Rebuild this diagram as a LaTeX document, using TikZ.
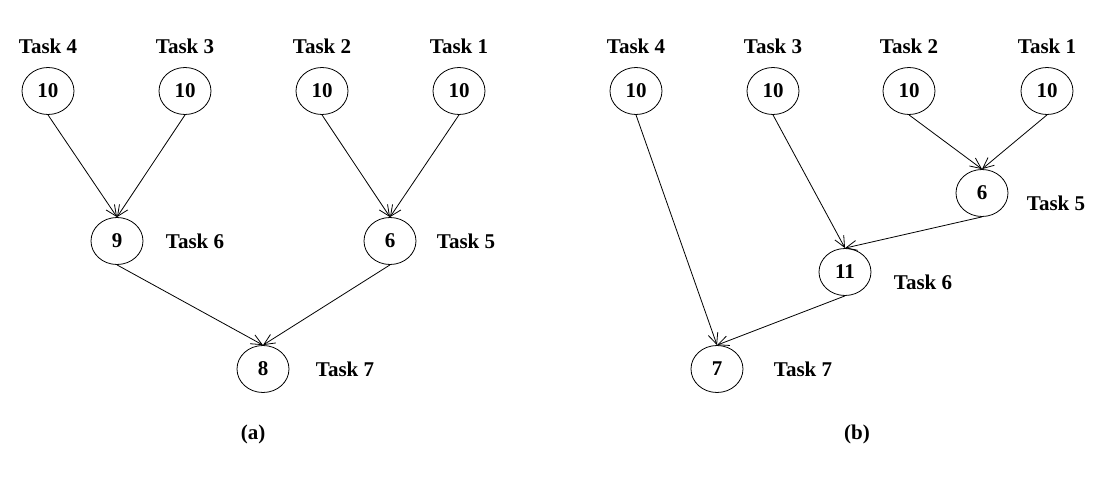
\documentclass[tikz,border=0pt]{standalone}
\usepackage{fontspec}
\setmainfont{Liberation Serif}
\usetikzlibrary{arrows.meta,positioning,shapes.geometric}

\begin{document}
\begin{tikzpicture}[
	x = 0.5pt, y = -0.5pt, % one unit per pixel of the page
	> = {Straight Barb[length=5.5pt,width=5pt]}, % open arrow head
	on grid,
	font = \fontsize{10.5}{12}\selectfont\bfseries,
	W/.style={ellipse, draw=black, thin, minimum width=26pt, minimum height=23.5pt, inner sep=0pt},  % task weight
	L/.style={inner sep=0pt},                                                                        % task label
	]
	\useasboundingbox (0,0) rectangle (1120,477);

	% (a) Nodes and their labels
	\node[W] (a4) at (48,91)  {10};
	\node[W] (a3) at (185,91) {10};
	\node[W] (a2) at (322,91) {10};
	\node[W] (a1) at (459,91) {10};
	\node[W] (a6) at (117,241) {9};
	\node[W] (a5) at (390,241) {6};
	\node[W] (a7) at (263,369) {8};

	\node[L] (ta4) [above = 22.5pt of a4] {Task 4};
	\node[L] (ta3) [above = 22.5pt of a3] {Task 3};
	\node[L] (ta2) [above = 22.5pt of a2] {Task 2};
	\node[L] (ta1) [above = 22.5pt of a1] {Task 1};
	\node[L] (ta6) [right = 39pt of a6] {Task 6};
	\node[L] (ta5) [right = 38pt of a5] {Task 5};
	\node[L] (ta7) [right = 41pt of a7] {Task 7};
	\node[L] (capa) at (253,434) {(a)};

	% (b) Nodes and their labels
	\node[W] (b4) at (636,91)  {10};
	\node[W] (b3) at (773,91)  {10};
	\node[W] (b2) at (909,91)  {10};
	\node[W] (b1) at (1047,91) {10};
	\node[W] (b5) at (982,193) {6};
	\node[W] (b6) at (845,272) {11};
	\node[W] (b7) at (717,369) {7};

	\node[L] (tb4) [above = 22.5pt of b4] {Task 4};
	\node[L] (tb3) [above = 22.5pt of b3] {Task 3};
	\node[L] (tb2) [above = 22.5pt of b2] {Task 2};
	\node[L] (tb1) [above = 22.5pt of b1] {Task 1};
	\node[L] (tb5) [below right = 5pt and 37pt of b5] {Task 5};
	\node[L] (tb6) [below right = 5pt and 39pt of b6] {Task 6};
	\node[L] (tb7) [right = 43pt of b7] {Task 7};
	\node[L] (capb) at (857,434) {(b)};

	% Paths connecting nodes, bottom of one to top of the next
	\path[->] (a4.south) edge (a6.north);
	\path[->] (a3.south) edge (a6.north);
	\path[->] (a2.south) edge (a5.north);
	\path[->] (a1.south) edge (a5.north);
	\path[->] (a6.south) edge (a7.north);
	\path[->] (a5.south) edge (a7.north);

	\path[->] (b4.south) edge (b7.north);
	\path[->] (b3.south) edge (b6.north);
	\path[->] (b2.south) edge (b5.north);
	\path[->] (b1.south) edge (b5.north);
	\path[->] (b5.south) edge (b6.north);
	\path[->] (b6.south) edge (b7.north);

\end{tikzpicture}
\end{document}
